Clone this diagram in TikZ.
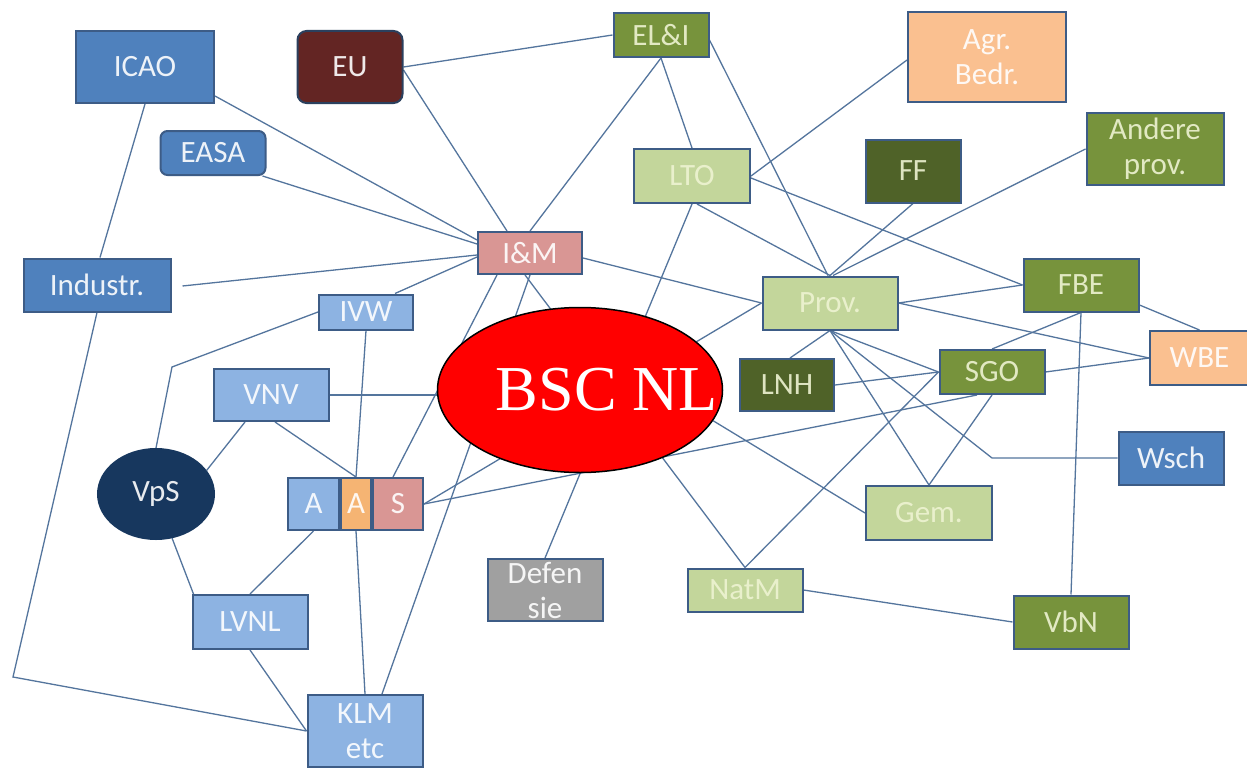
\documentclass[tikz,border=0pt]{standalone}
\usepackage{fontspec}
\usetikzlibrary{shapes.geometric}
\newfontfamily\boxfont{Carlito}
\newfontfamily\bscfont{Liberation Serif}
\definecolor{dblue}{HTML}{4F81BD}
\definecolor{lblue}{HTML}{8DB3E2}
\definecolor{eured}{HTML}{632523}
\definecolor{olive}{HTML}{77933C}
\definecolor{lgreen}{HTML}{C3D69B}
\definecolor{dgreen}{HTML}{4F6228}
\definecolor{peach}{HTML}{FAC090}
\definecolor{orangeA}{HTML}{F5B473}
\definecolor{rosy}{HTML}{D99694}
\definecolor{greyd}{HTML}{A0A0A0}
\definecolor{navyv}{HTML}{17375E}
\definecolor{bordc}{HTML}{3D5C86}
\definecolor{edgec}{HTML}{54759D}
\definecolor{creamtxt}{HTML}{EEF3D2}
\pgfdeclarelayer{bg}
\pgfsetlayers{bg,main}
\tikzset{
  box/.style={draw=bordc, line width=2pt, rectangle, inner sep=0pt, text=white, text opacity=0.9,
    align=center, font={\boxfont\fontsize{31}{35}\selectfont}},
  gbox/.style={box, text=creamtxt},
  edge/.style={draw=edgec, line width=1.3pt},
}
\begin{document}
\begin{tikzpicture}[x=1pt,y=-1pt]
\useasboundingbox (0,0) rectangle (1247,768);
\clip (0,0) rectangle (1247,768);
% nodes
\node[box, fill=dblue, minimum width=138pt, minimum height=72pt] (icao) at (145,67) {ICAO};
\node[box, fill=eured, rounded corners=9pt, draw=bordc!70!black, minimum width=105pt, minimum height=72pt] (eu) at (350,67) {EU};
\node[box, fill=dblue, rounded corners=7pt, minimum width=105pt, minimum height=44pt] (easa) at (213,153) {EASA};
\node[box, fill=dblue, minimum width=147pt, minimum height=53pt] (industr) at (97,285) {Industr.};
\node[gbox, fill=olive, minimum width=95pt, minimum height=44pt] (eli) at (661,35) {EL\&I};
\node[box, fill=peach, minimum width=158pt, minimum height=89pt] (agr) at (987,57) {Agr.\\Bedr.};
\node[gbox, fill=lgreen, minimum width=116pt, minimum height=54pt] (lto) at (692,176) {LTO};
\node[gbox, fill=dgreen, minimum width=95pt, minimum height=63pt] (ff) at (913,171) {FF};
\node[gbox, fill=olive, minimum width=137pt, minimum height=72pt] (andere) at (1155,149) {Andere\\prov.};
\node[box, fill=rosy, minimum width=104pt, minimum height=42pt] (iam) at (530,253) {I\&M};
\node[box, fill=lblue, minimum width=94pt, minimum height=35pt] (ivw) at (366,312) {IVW};
\node[gbox, fill=lgreen, minimum width=135pt, minimum height=53pt] (prov) at (830,303) {Prov.};
\node[gbox, fill=olive, minimum width=115pt, minimum height=53pt] (fbe) at (1081,285) {FBE};
\node[box, fill=peach, minimum width=99pt, minimum height=54pt] (wbe) at (1199.5,358) {WBE};
\node[box, fill=lblue, minimum width=115pt, minimum height=52pt] (vnv) at (271,395) {VNV};
\node[gbox, fill=dgreen, minimum width=94pt, minimum height=52pt] (lnh) at (787,385) {LNH};
\node[gbox, fill=olive, minimum width=105pt, minimum height=44pt] (sgo) at (992,372) {SGO};
\node[box, ellipse, fill=navyv, draw=navyv, minimum width=116pt, minimum height=90pt] (vps) at (156,494) {VpS};
\node[box, fill=lblue, minimum width=51pt, minimum height=52pt] (a1) at (313.5,504) {A};
\node[box, fill=orangeA, minimum width=30pt, minimum height=52pt] (a2) at (356,504) {A};
\node[box, fill=rosy, minimum width=50pt, minimum height=52pt] (s) at (398,504) {S};
\node[box, fill=dblue, minimum width=105pt, minimum height=53pt] (wsch) at (1171,458) {Wsch};
\node[gbox, fill=lgreen, minimum width=126pt, minimum height=54pt] (gem) at (929,513) {Gem.};
\node[box, fill=greyd, minimum width=115pt, minimum height=62pt] (defensie) at (545,590) {Defen\\sie};
\node[gbox, fill=lgreen, minimum width=115pt, minimum height=43pt] (natm) at (745,590) {NatM};
\node[box, fill=lblue, minimum width=115pt, minimum height=54pt] (lvnl) at (250,622) {LVNL};
\node[gbox, fill=olive, minimum width=115pt, minimum height=53pt] (vbn) at (1071,622) {VbN};
\node[box, fill=lblue, minimum width=115pt, minimum height=72pt] (klm) at (365,731) {KLM\\etc};
\node[ellipse, fill=red, draw=black, line width=1.5pt, inner sep=0pt, minimum width=285pt, minimum height=165pt,
  text=white, font={\bscfont\fontsize{64}{70}\selectfont}] (bsc) at (580,390) {\raisebox{-2pt}{\makebox[0pt]{\hspace*{54pt}BSC NL}}};
\coordinate (b1) at (172,367);
\coordinate (b2) at (13,677);
\coordinate (b3) at (992,458);
% edges
\begin{pgfonlayer}{bg}
\fill[white] (0,0) rectangle (1247,768);
\draw[edge] ([yshift=-29pt]icao.east) -- ([yshift=13pt]iam.west);
\draw[edge] ([xshift=-4pt]easa.south east) -- ([yshift=9pt]iam.west);
\draw[edge] ([xshift=11pt,yshift=-1pt]industr.east) -- ([yshift=-2pt]iam.west);
\draw[edge] (icao.south) -- ([xshift=3pt]industr.north);
\draw[edge] (eu.east) -- (eli.west);
\draw[edge] ([yshift=-3pt]eu.east) -- ([xshift=-23pt]iam.north);
\draw[edge] (eli.south) -- (iam.north);
\draw[edge] (eli.south) -- (lto.north);
\draw[edge] ([yshift=-5pt]eli.east) -- ([xshift=-2pt]prov.north);
\draw[edge] ([yshift=-3pt]agr.west) -- (lto.east);
\draw[edge] ([yshift=-2pt]lto.east) -- (fbe.west);
\draw[edge] ([xshift=5pt]lto.south) -- (prov.north);
\draw[edge] (lto.south) -- (defensie.north);
\draw[edge] (ff.south) -- (prov.north);
\draw[edge] (andere.west) -- ([xshift=3pt]prov.north);
\draw[edge] ([yshift=-5pt]iam.east) -- (prov.west);
\draw[edge] (s.east) -- (prov.west);
\draw[edge] (prov.east) -- (fbe.west);
\draw[edge] (prov.east) -- (wbe.west);
\draw[edge] ([yshift=-20pt]fbe.east) -- (wbe.north);
\draw[edge] (fbe.south) -- (sgo.north);
\draw[edge] (fbe.south) -- (vbn.north);
\draw[edge] (prov.south) -- ([xshift=3pt]lnh.north);
\draw[edge] (prov.south) -- (sgo.west);
\draw[edge] (prov.south) -- (gem.north);
\draw[edge] (prov.south) -- (b3) -- (wsch.west);
\draw[edge] (lnh.east) -- (sgo.west);
\draw[edge] (sgo.east) -- (wbe.west);
\draw[edge] (sgo.west) -- (natm.north);
\draw[edge] (sgo.south) -- (gem.north);
\draw[edge] ([xshift=-15pt]sgo.south) -- (s.east);
\draw[edge] ([xshift=-33pt]iam.south) -- ([xshift=-5pt]s.north);
\draw[edge] (iam.south) -- ([xshift=17pt]klm.north);
\draw[edge] ([xshift=-5pt]iam.south) -- (natm.north);
\draw[edge] ([xshift=29pt]ivw.north) -- ([yshift=-4pt]iam.west);
\draw[edge] (vnv.east) -- (vnv.east -| bsc.west);
\draw[edge] ([xshift=-26pt]vnv.south) -- (vps.25);
\draw[edge] ([xshift=4pt]vnv.south) -- (a2.north);
\draw[edge] (ivw.south) -- (a2.north);
\draw[edge] (ivw.west) -- (b1) -- (vps.north);
\draw[edge] (vps.-70) -- ([xshift=2pt]lvnl.north west);
\draw[edge] (a1.south) -- (lvnl.north);
\draw[edge] (a2.south) -- (klm.north);
\draw[edge] (lvnl.south) -- (klm.west);
\draw[edge] (industr.south) -- (b2) -- (klm.west);
\draw[edge] (natm.east) -- (vbn.west);
\draw[edge] (bsc.-13.5) -- (gem.west);
\end{pgfonlayer}
\end{tikzpicture}
\end{document}
